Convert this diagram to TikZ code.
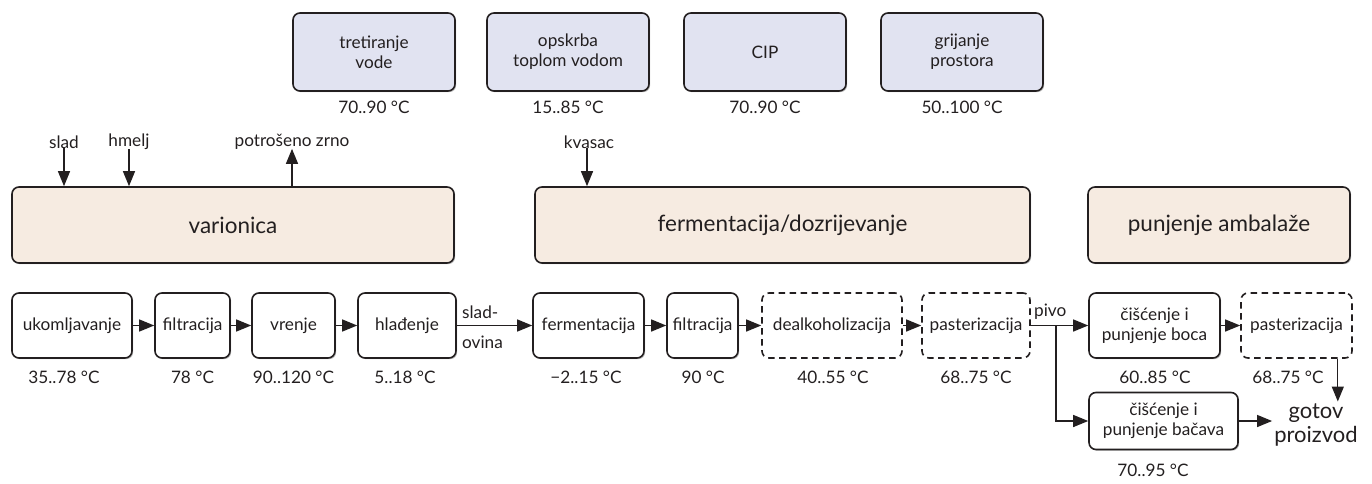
\documentclass[tikz,border=0pt]{standalone}
\usepackage{fontspec}
\setmainfont{Lato}
\usetikzlibrary{arrows.meta,shadows}
\definecolor{dk}{HTML}{231F20}
\definecolor{utilc}{HTML}{E1E3F1}
\definecolor{stagec}{HTML}{F6EBE1}
\newcommand\fsm{\fontsize{17.2}{20}\selectfont}
\newcommand\fbg{\fontsize{22.5}{26}\selectfont}
\newcommand\fgp{\fontsize{22}{24}\selectfont}
\tikzset{
  proc/.style={draw=dk, line width=1.6pt, rounded corners=7pt, fill=white, align=center,
    inner sep=0pt, font=\fsm, text=dk,
    drop shadow={shadow xshift=1.2pt, shadow yshift=-1.2pt, fill=black, opacity=0.25}},
  dproc/.style={draw=dk, line width=1.6pt, rounded corners=7pt, fill=white, align=center,
    inner sep=0pt, font=\fsm, text=dk, dash pattern=on 6.5pt off 4.5pt},
  util/.style={proc, fill=utilc},
  stagebox/.style={proc, fill=stagec, font=\fbg},
  arr/.style={-{Triangle[length=15pt,width=12pt]}, line width=1.3pt, draw=dk},
  lbl/.style={font=\fsm, text=dk, inner sep=1pt},
}
\begin{document}
\begin{tikzpicture}[x=1pt,y=-1pt]
\useasboundingbox (0,0) rectangle (1372,484);
% utility boxes
\node[util, minimum width=162, minimum height=78] (tv) at (374,52) {tretiranje\\vode};
\node[util, minimum width=162, minimum height=78] (ot) at (568,52) {opskrba\\toplom vodom};
\node[util, minimum width=162, minimum height=78] (cip) at (765,52) {CIP};
\node[util, minimum width=162, minimum height=78] (gp) at (962,52) {grijanje\\prostora};
\node[lbl] (ttv) at (374,107) {70..90 °C};
\node[lbl] (tot) at (568,107) {15..85 °C};
\node[lbl] (tcip) at (765,107) {70..90 °C};
\node[lbl] (tgp) at (962,107) {50..100 °C};
% stage boxes
\node[stagebox, minimum width=442, minimum height=76] (var) at (233,225) {varionica};
\node[stagebox, minimum width=495, minimum height=76] (fer) at (782.5,225) {fermentacija/dozrijevanje};
\node[stagebox, minimum width=262, minimum height=76] (pun) at (1219,225) {punjenje ambalaže};
% inputs / outputs
\node[lbl] (slad) at (64,142) {slad};
\node[lbl] (hmelj) at (129,142) {hmelj};
\node[lbl] (zrno) at (292,142) {potrošeno zrno};
\node[lbl] (kvasac) at (589,142) {kvasac};
\draw[arr] ([yshift=2pt]slad.south) -- (slad.south |- var.north);
\draw[arr] ([yshift=2pt]hmelj.south) -- (hmelj.south |- var.north);
\draw[arr] (var.north -| zrno.south) -- ([yshift=2pt]zrno.south);
\draw[arr] ([xshift=-2pt,yshift=2pt]kvasac.south) -- ([xshift=-2pt]kvasac.south |- fer.north);
% process row
\node[proc, minimum width=120, minimum height=65] (uk) at (72,325.5) {ukomljavanje};
\node[proc, minimum width=75, minimum height=65] (fi1) at (192.5,325.5) {filtracija};
\node[proc, minimum width=83, minimum height=65] (vr) at (293.5,325.5) {vrenje};
\node[proc, minimum width=98, minimum height=65] (hl) at (407,325.5) {hlađenje};
\node[proc, minimum width=111, minimum height=65] (fe) at (588.5,325.5) {fermentacija};
\node[proc, minimum width=71, minimum height=65] (fi2) at (702.5,325.5) {filtracija};
\node[dproc, minimum width=140, minimum height=65] (de) at (832,325.5) {dealkoholizacija};
\node[dproc, minimum width=108, minimum height=65] (pa1) at (976,325.5) {pasterizacija};
\node[proc, minimum width=131, minimum height=65] (cb) at (1154.5,325.5) {čišćenje i\\punjenje boca};
\node[dproc, minimum width=111, minimum height=65] (pa2) at (1296.5,325.5) {pasterizacija};
\node[proc, minimum width=149, minimum height=57] (bc) at (1163.5,421) {čišćenje i\\punjenje bačava};
\node[font=\fgp, text=dk, align=center, inner sep=2pt] (gotov) at (1316,425) {gotov\\proizvod};
% temperatures
\node[lbl] at (64,377) {35..78 °C};
\node[lbl] at (192.5,377) {78 °C};
\node[lbl] at (293.5,377) {90..120 °C};
\node[lbl] at (405,377) {5..18 °C};
\node[lbl] at (586,377) {−2..15 °C};
\node[lbl] at (703,377) {90 °C};
\node[lbl] at (833,377) {40..55 °C};
\node[lbl] at (976,377) {68..75 °C};
\node[lbl] at (1155,377) {60..85 °C};
\node[lbl] at (1288,377) {68..75 °C};
\node[lbl] at (1153,470) {70..95 °C};
% connectors
\draw[arr] (uk) -- (fi1);
\draw[arr] (fi1) -- (vr);
\draw[arr] (vr) -- (hl);
\draw[arr] (hl) -- (fe);
\node[lbl, anchor=west] (sl1) at (461,312) {slad-};
\node[lbl, anchor=west] (sl2) at (461,342) {ovina};
\draw[arr] (fe) -- (fi2);
\draw[arr] (fi2) -- (de);
\draw[arr] (de) -- (pa1);
\draw[arr] (pa1) -- (cb);
\node[lbl, anchor=west] (pivo) at (1033,312) {pivo};
\coordinate (br) at (1056,325.5);
\draw[arr] (br) |- (bc.west);
\draw[arr] (cb) -- (pa2);
\draw[arr] ([xshift=-15pt]pa2.south east) -- ([xshift=-15pt]pa2.south east |- gotov.north);
\draw[arr] (bc.east) -- (bc.east -| gotov.west);
\end{tikzpicture}
\end{document}
